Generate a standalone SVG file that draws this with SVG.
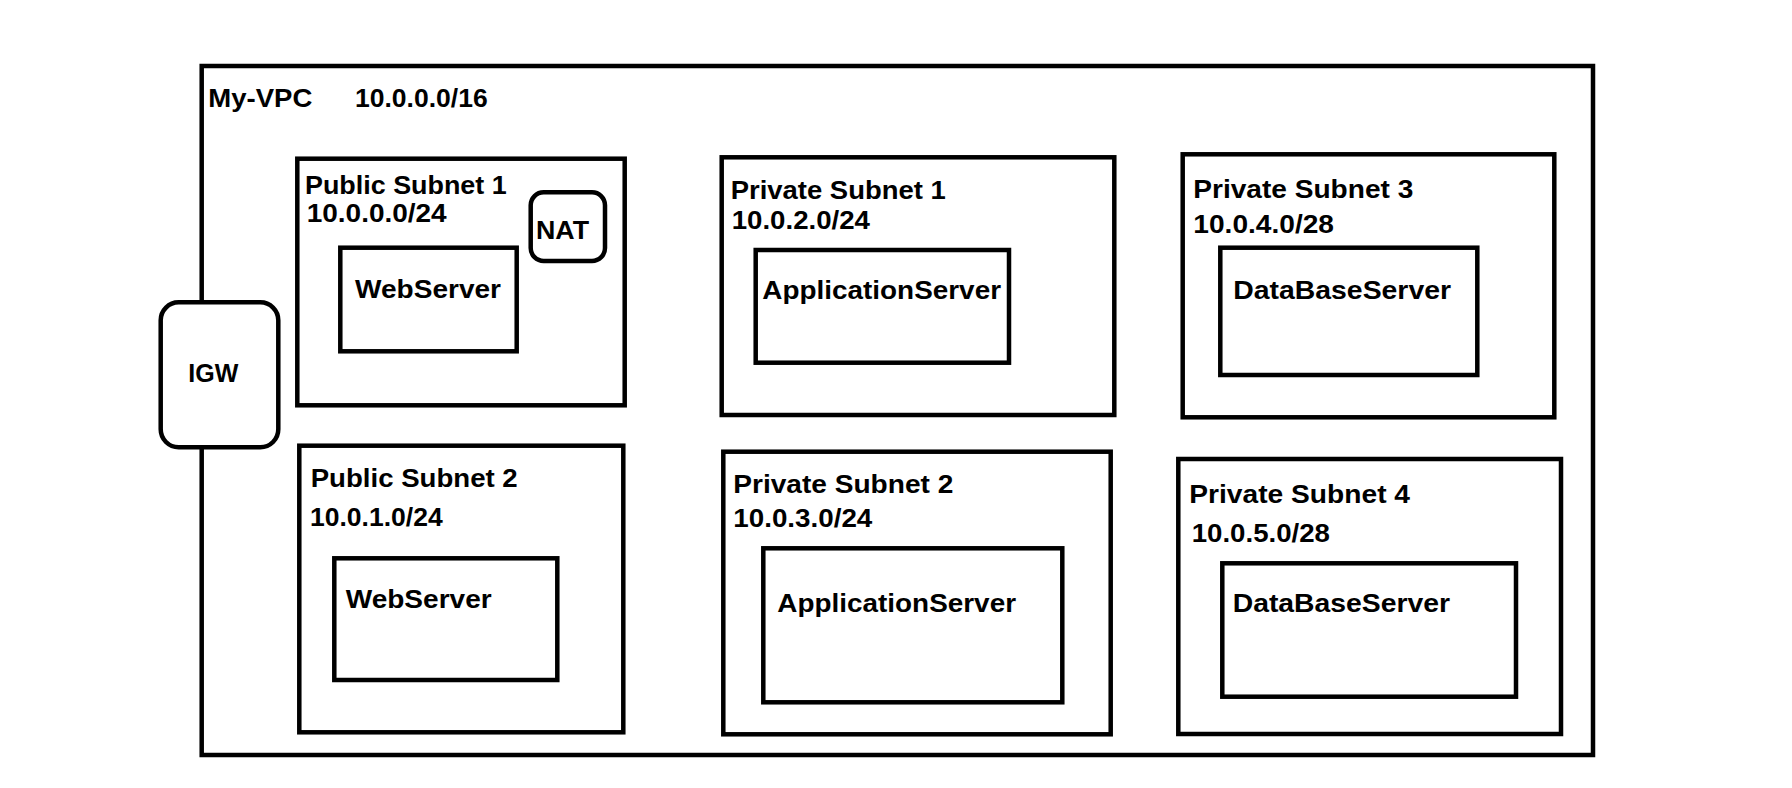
<svg xmlns="http://www.w3.org/2000/svg" width="1792" height="788" viewBox="0 0 1792 788">
<style>
.box{fill:none;stroke:#000;stroke-width:4.5}
.rbox{fill:#fff;stroke:#000;stroke-width:4.5}
.t{font-family:"Liberation Sans",Arial,sans-serif;font-weight:bold;font-size:26px;fill:#000}
</style>
<rect width="1792" height="788" fill="#fff"/>
<g id="vpc">
<rect class="box" x="201.7" y="66" width="1391.3" height="689" stroke-width="4.7"/>
<text class="t" x="208.3" y="106.7" textLength="104" lengthAdjust="spacingAndGlyphs">My-VPC</text>
<text class="t" x="355" y="106.7" textLength="132.7" lengthAdjust="spacingAndGlyphs">10.0.0.0/16</text>
</g>
<g id="igw">
<rect class="rbox" x="160.7" y="302.3" width="117.6" height="145" rx="18" ry="18"/>
<text class="t" x="188.3" y="381.7" textLength="50" lengthAdjust="spacingAndGlyphs">IGW</text>
</g>
<g id="public-subnet-1">
<rect class="box" x="297.3" y="158.7" width="327.4" height="246.6"/>
<text class="t" x="305" y="194" textLength="201.7" lengthAdjust="spacingAndGlyphs">Public Subnet 1</text>
<text class="t" x="306.7" y="222.3" textLength="140" lengthAdjust="spacingAndGlyphs">10.0.0.0/24</text>
</g>
<g id="nat">
<rect class="box" x="530.7" y="192.3" width="74.3" height="68.7" rx="13" ry="13"/>
<text class="t" x="536" y="239.3" textLength="53" lengthAdjust="spacingAndGlyphs">NAT</text>
</g>
<g id="webserver-1">
<rect class="box" x="340.3" y="247.7" width="176.4" height="103.6"/>
<text class="t" x="355" y="297.7" textLength="146" lengthAdjust="spacingAndGlyphs">WebServer</text>
</g>
<g id="public-subnet-2">
<rect class="box" x="299.3" y="445.7" width="324" height="286.6"/>
<text class="t" x="310.7" y="486.7" textLength="207" lengthAdjust="spacingAndGlyphs">Public Subnet 2</text>
<text class="t" x="310" y="526" textLength="132.7" lengthAdjust="spacingAndGlyphs">10.0.1.0/24</text>
</g>
<g id="webserver-2">
<rect class="box" x="334.3" y="558.3" width="223" height="121.7"/>
<text class="t" x="345.7" y="607.7" textLength="146" lengthAdjust="spacingAndGlyphs">WebServer</text>
</g>
<g id="private-subnet-1">
<rect class="box" x="721.7" y="157.3" width="392.6" height="257.7"/>
<text class="t" x="730.7" y="199.3" textLength="215" lengthAdjust="spacingAndGlyphs">Private Subnet 1</text>
<text class="t" x="731.7" y="229" textLength="138.3" lengthAdjust="spacingAndGlyphs">10.0.2.0/24</text>
</g>
<g id="appserver-1">
<rect class="box" x="755.7" y="250" width="253.3" height="112.7"/>
<text class="t" x="762.3" y="299.3" textLength="238.7" lengthAdjust="spacingAndGlyphs">ApplicationServer</text>
</g>
<g id="private-subnet-2">
<rect class="box" x="723.3" y="451.7" width="387.4" height="282.6"/>
<text class="t" x="733.3" y="493.3" textLength="220" lengthAdjust="spacingAndGlyphs">Private Subnet 2</text>
<text class="t" x="733.3" y="526.7" textLength="139" lengthAdjust="spacingAndGlyphs">10.0.3.0/24</text>
</g>
<g id="appserver-2">
<rect class="box" x="763.3" y="548.3" width="299" height="154"/>
<text class="t" x="777.3" y="611.7" textLength="238.7" lengthAdjust="spacingAndGlyphs">ApplicationServer</text>
</g>
<g id="private-subnet-3">
<rect class="box" x="1182.7" y="154.3" width="371.6" height="263"/>
<text class="t" x="1193.3" y="198.3" textLength="220" lengthAdjust="spacingAndGlyphs">Private Subnet 3</text>
<text class="t" x="1193.3" y="233.3" textLength="140.7" lengthAdjust="spacingAndGlyphs">10.0.4.0/28</text>
</g>
<g id="dbserver-1">
<rect class="box" x="1220.3" y="247.7" width="257" height="127.3"/>
<text class="t" x="1233.3" y="299.3" textLength="217.7" lengthAdjust="spacingAndGlyphs">DataBaseServer</text>
</g>
<g id="private-subnet-4">
<rect class="box" x="1178.3" y="459" width="382.7" height="275"/>
<text class="t" x="1189.3" y="502.7" textLength="220.7" lengthAdjust="spacingAndGlyphs">Private Subnet 4</text>
<text class="t" x="1191.7" y="541.7" textLength="138.3" lengthAdjust="spacingAndGlyphs">10.0.5.0/28</text>
</g>
<g id="dbserver-2">
<rect class="box" x="1222.3" y="563.3" width="293.7" height="133.4"/>
<text class="t" x="1232.7" y="611.7" textLength="217.3" lengthAdjust="spacingAndGlyphs">DataBaseServer</text>
</g>
<g id="connectors"></g>
</svg>
